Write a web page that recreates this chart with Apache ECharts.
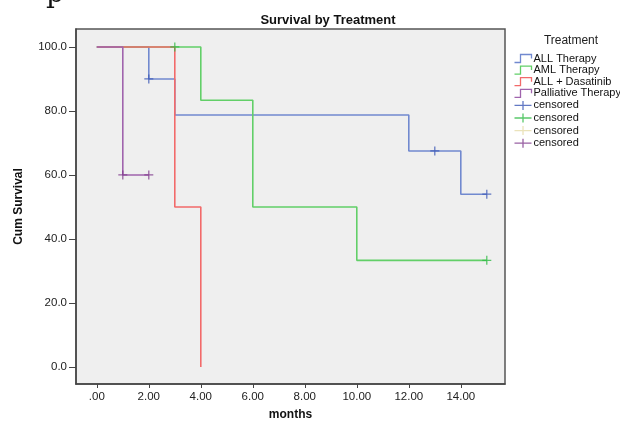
<!DOCTYPE html>
<html>
<head>
<meta charset="utf-8">
<script src="https://cdn.jsdelivr.net/npm/echarts@6/dist/echarts.min.js"></script>
<style>
html, body { margin: 0; padding: 0; background: #fff; }
#main { width: 620px; height: 421px; }
</style>
</head>
<body>
<div id="main"></div>
<script>
// survival curves (months, cum survival %)
var allTherapy = [[0, 100], [2, 90], [3, 78.75], [12, 67.5], [14, 54], [15, 54]];
var amlTherapy = [[0, 100], [4, 83.33], [6, 50], [10, 33.33], [15, 33.33]];
var allDasatinib = [[0, 100], [3, 50], [4, 0]];
var palliative = [[0, 100], [1, 60], [2, 60]];

// censored points
var censAll = [[2, 90], [13, 67.5], [15, 54]];
var censAml = [[3, 100], [15, 33.33]];
var censDasatinib = [];
var censPalliative = [[1, 60], [2, 60]];

var xTicks = [0, 2, 4, 6, 8, 10, 12, 14];
var yTicks = [0, 20, 40, 60, 80, 100];

var groupNames = ['ALL Therapy', 'AML Therapy', 'ALL + Dasatinib', 'Palliative Therapy'];
var lineColors = ['#7189cf', '#62cf68', '#f26a6a', '#a064ad'];
var censColors = ['#3b57b5', '#2fba45', '#e6dcaa', '#7f3a8c'];

var stepIcon = 'path://M0,9 L6,9 L6,1 L17,1 L17,5';
var crossIcon = 'path://M0,4.5 L17,4.5 M8.5,0 L8.5,9';
var crossSymbol = 'path://M0,4.3L10,4.3L10,5.7L0,5.7Z M4.3,0L5.7,0L5.7,10L4.3,10Z';

var curves = [allTherapy, amlTherapy, allDasatinib, palliative];
var censored = [censAll, censAml, censDasatinib, censPalliative];

var series = [];
var legendData = [];
curves.forEach(function (d, i) {
    series.push({
        name: groupNames[i],
        type: 'line',
        step: 'end',
        data: d,
        showSymbol: false,
        symbol: 'none',
        color: lineColors[i],
        lineStyle: { width: 1.6, color: lineColors[i] },
        z: 2 + i
    });
    legendData.push({
        name: groupNames[i],
        icon: stepIcon,
        itemStyle: { color: 'none', borderColor: lineColors[i], borderWidth: 1.3 }
    });
});
censored.forEach(function (d, i) {
    // trailing spaces keep the four legend entries apart
    var nm = 'censored' + new Array(i + 1).join(' ');
    series.push({
        name: nm,
        type: 'scatter',
        data: d,
        symbol: crossSymbol,
        symbolSize: 9,
        color: censColors[i],
        itemStyle: { color: censColors[i] },
        z: 10
    });
    legendData.push({
        name: nm,
        icon: crossIcon,
        itemStyle: { color: 'none', borderColor: censColors[i], borderWidth: 1.3 }
    });
});

var chart = echarts.init(document.getElementById('main'));
chart.setOption({
    animation: false,
    backgroundColor: '#ffffff',
    textStyle: { fontFamily: 'Liberation Sans, Arial, sans-serif' },
    title: [{
        text: 'Survival by Treatment',
        left: 323,
        textAlign: 'center',
        top: 9,
        textStyle: { fontSize: 13, fontWeight: 'bold', color: '#111' }
    }, {
        text: 'Treatment',
        left: 566,
        textAlign: 'center',
        top: 30,
        textStyle: { fontSize: 12, fontWeight: 'normal', color: '#222' }
    }],
    graphic: [{
        type: 'text',
        left: 46,
        top: -19,
        style: { text: 'p', font: '28px "DejaVu Serif", serif', fill: '#111' }
    }],
    legend: {
        data: legendData,
        orient: 'vertical',
        left: 512,
        top: 52,
        itemWidth: 17,
        itemHeight: 9,
        itemGap: -1.4,
        padding: 0,
        selectedMode: false,
        formatter: function (n) { return n.trim(); },
        textStyle: { fontSize: 11, lineHeight: 11, color: '#111', padding: [0, 0, 0, -3] }
    },
    grid: {
        left: 76,
        top: 29,
        right: 115,
        bottom: 37,
        outerBoundsMode: 'none',
        containLabel: false,
        show: true,
        backgroundColor: '#efefef',
        borderColor: '#555',
        borderWidth: 1.5
    },
    xAxis: {
        type: 'value',
        min: -0.8,
        max: 15.7,
        name: 'months',
        nameLocation: 'middle',
        nameGap: 25,
        nameTextStyle: { fontSize: 12, fontWeight: 'bold', color: '#111' },
        axisLine: { show: true, onZero: false, lineStyle: { color: '#444', width: 1.5 } },
        axisTick: { show: true, customValues: xTicks, length: 4, lineStyle: { color: '#444' } },
        axisLabel: {
            customValues: xTicks,
            fontSize: 11.5,
            color: '#222',
            margin: 7,
            formatter: function (v) { return v === 0 ? '.00' : v.toFixed(2); }
        },
        splitLine: { show: false }
    },
    yAxis: {
        type: 'value',
        min: -5.3,
        max: 105.6,
        name: 'Cum Survival',
        nameLocation: 'middle',
        nameGap: 51,
        nameTextStyle: { fontSize: 12, fontWeight: 'bold', color: '#111' },
        axisLine: { show: true, onZero: false, lineStyle: { color: '#444', width: 1.5 } },
        axisTick: { show: true, customValues: yTicks, length: 7, lineStyle: { color: '#444' } },
        axisLabel: {
            customValues: yTicks,
            fontSize: 11.5,
            color: '#222',
            margin: 9,
            formatter: function (v) { return v.toFixed(1); }
        },
        splitLine: { show: false }
    },
    series: series
});
</script>
</body>
</html>
